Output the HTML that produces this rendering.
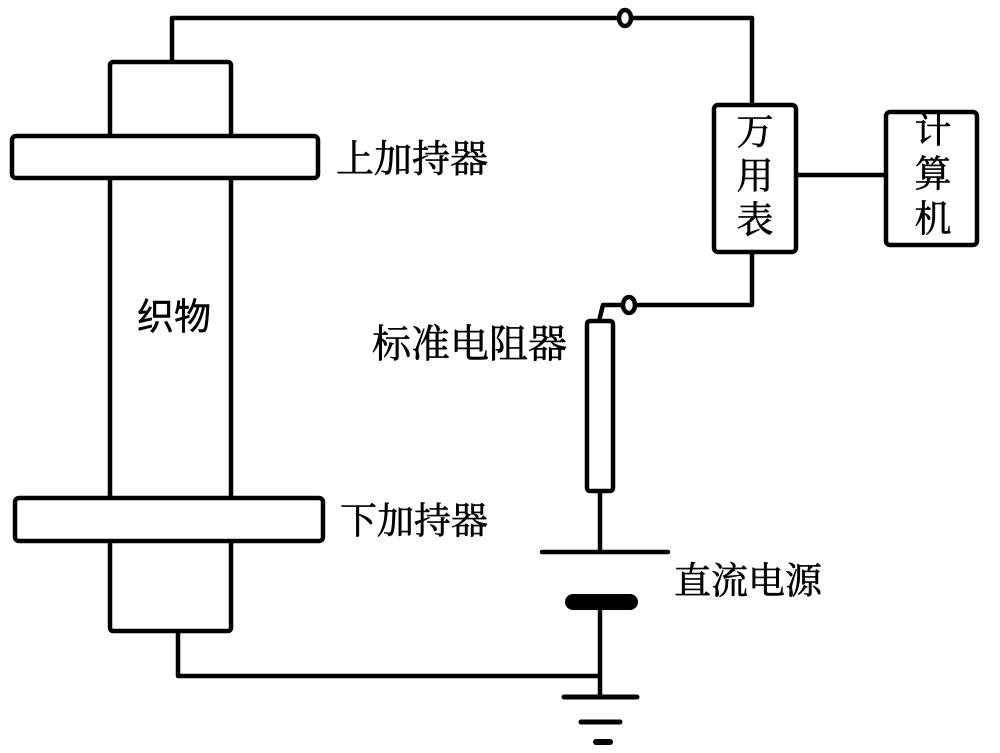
<!DOCTYPE html>
<html><head><meta charset="utf-8"><style>
html,body{margin:0;padding:0;background:#fff;}
svg{display:block;}
.l{font-family:"Liberation Serif","Noto Serif CJK SC",serif;fill:#000;stroke:#000;stroke-width:0.6px;}
.s{font-family:"Liberation Sans","Noto Sans CJK SC",sans-serif;fill:#000;stroke:#000;stroke-width:0.4px;}
</style></head><body>
<svg width="1000" height="753" viewBox="0 0 1000 753" xmlns="http://www.w3.org/2000/svg">
<g fill="none" stroke="#000" stroke-width="4.5" stroke-linejoin="round">
  <!-- fabric -->
  <rect x="110" y="62" width="121" height="569" rx="3" fill="#fff"/>
  <!-- holders -->
  <rect x="12" y="136" width="306" height="42" rx="4" fill="#fff"/>
  <rect x="15" y="498" width="308" height="43" rx="4" fill="#fff"/>
  <!-- top wire -->
  <path d="M172,62 V18 H618"/>
  <path d="M632,18 H752 V105"/>
  <ellipse cx="625" cy="18" rx="6" ry="8" fill="#fff"/>
  <!-- multimeter -->
  <rect x="714" y="105" width="82" height="147" rx="4" fill="#fff"/>
  <path d="M796,175 H886"/>
  <rect x="886" y="112" width="91" height="133" rx="4" fill="#fff"/>
  <!-- lower wire to resistor -->
  <path d="M752,252 V305 H636"/>
  <path d="M622,305 H603 L599,321"/>
  <ellipse cx="629" cy="305" rx="6" ry="8" fill="#fff"/>
  <rect x="587" y="321" width="26" height="170" rx="3" fill="#fff"/>
  <path d="M600,491 V552"/>
  <path d="M542,552 H668" stroke-linecap="round"/>
  <path d="M600,610 V697"/>
  <path d="M178,631 V676 H600"/>
  <path d="M564,697 H637" stroke-width="5" stroke-linecap="round"/>
  <path d="M581,722 H620" stroke-width="5" stroke-linecap="round"/>
  <path d="M596,742 H610" stroke-width="6" stroke-linecap="round"/>
</g>
<rect x="565" y="594" width="73" height="16" rx="8" fill="#000"/>
<!-- labels -->
<text class="l" x="336" y="160" font-size="38" dominant-baseline="central">上加持器</text>
<text class="l" x="372" y="345" font-size="39" dominant-baseline="central">标准电阻器</text>
<text class="l" x="340" y="522" font-size="37" dominant-baseline="central">下加持器</text>
<text class="l" x="674" y="582" font-size="37" dominant-baseline="central">直流电源</text>
<text class="s" x="137" y="317" font-size="37" dominant-baseline="central">织物</text>
<g class="l" font-size="37" text-anchor="middle" dominant-baseline="central">
  <text x="755" y="133">万</text>
  <text x="755" y="177">用</text>
  <text x="755" y="221">表</text>
  <text x="933" y="131">计</text>
  <text x="933" y="175">算</text>
  <text x="933" y="220">机</text>
</g>
</svg>
</body></html>
